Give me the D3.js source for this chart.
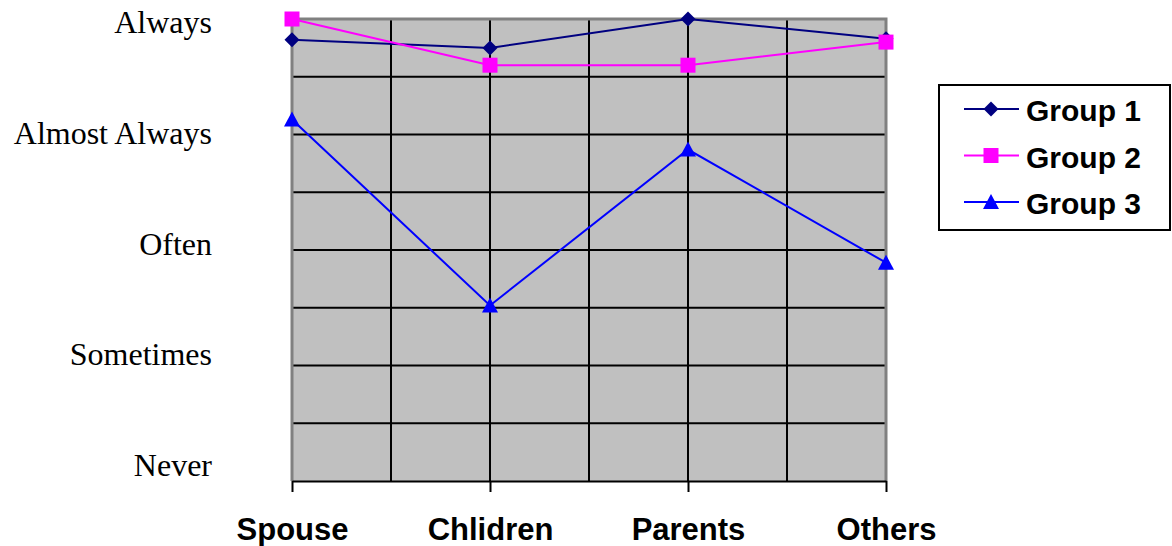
<!DOCTYPE html>
<html>
<head>
<meta charset="utf-8">
<script src="https://cdn.jsdelivr.net/npm/d3@7"></script>
<style>
  html, body { margin: 0; padding: 0; background: #ffffff; }
  svg { display: block; }
</style>
</head>
<body>
<svg id="chart" width="1172" height="546"></svg>
<script>
// Categories along the bottom and the rating scale on the side
const categories = ["Spouse", "Chlidren", "Parents", "Others"];
const levelLabels = ["Never", "Sometimes", "Often", "Almost Always", "Always"];

// Ratings per group (1 = Never ... 5 = Always)
const group1 = [4.82, 4.75, 5.0, 4.83];
const group2 = [5.0, 4.6, 4.6, 4.8];
const group3 = [4.13, 2.52, 3.87, 2.89];
const seriesNames = ["Group 1", "Group 2", "Group 3"];

const plot = { left: 292, right: 886, top: 19, bottom: 481 };

const svg = d3.select("#chart");

const x = d3.scalePoint().domain(categories).range([plot.left, plot.right]);
const xi = d3.scaleLinear().domain([0, categories.length - 1]).range([plot.left, plot.right]);
const y = d3.scaleLinear().domain([1, 5]).range([plot.bottom, plot.top]);

// Plot background
svg.append("rect")
  .attr("x", plot.left).attr("y", plot.top)
  .attr("width", plot.right - plot.left).attr("height", plot.bottom - plot.top)
  .attr("fill", "#c0c0c0");

// Horizontal grid every half step
svg.append("g").selectAll("line")
  .data(d3.range(1.5, 5, 0.5))
  .join("line")
  .attr("x1", plot.left).attr("x2", plot.right)
  .attr("y1", d => y(d)).attr("y2", d => y(d))
  .attr("stroke", "#000").attr("stroke-width", 2);

// Vertical grid at categories and halfway between them
svg.append("g").selectAll("line")
  .data(d3.range(0.5, categories.length - 1, 0.5))
  .join("line")
  .attr("x1", d => xi(d)).attr("x2", d => xi(d))
  .attr("y1", plot.top).attr("y2", plot.bottom)
  .attr("stroke", "#000").attr("stroke-width", 2);

// Plot frame (left, top, right in grey)
svg.append("path")
  .attr("d", `M${plot.left},${plot.bottom}V${plot.top}H${plot.right}V${plot.bottom}`)
  .attr("fill", "none").attr("stroke", "#808080").attr("stroke-width", 3);

// Category axis
const xAxis = svg.append("g")
  .attr("transform", `translate(0,${plot.bottom})`)
  .call(d3.axisBottom(x).tickSize(11).tickPadding(26).tickSizeOuter(0));
xAxis.select(".domain").attr("stroke", "#000").attr("stroke-width", 2);
xAxis.selectAll(".tick line").attr("stroke", "#000").attr("stroke-width", 2);
xAxis.selectAll(".tick text")
  .attr("fill", "#000")
  .style("font-family", "'Liberation Sans', Arial, sans-serif")
  .style("font-weight", "bold")
  .style("font-size", "31px");

// Rating labels on the left
const levelPos = d3.scalePoint().domain(levelLabels).range([476, 33]);
svg.append("g").selectAll("text")
  .data(levelLabels)
  .join("text")
  .attr("x", 212)
  .attr("y", d => levelPos(d))
  .attr("text-anchor", "end")
  .style("font-family", "'Liberation Serif', 'Times New Roman', serif")
  .style("font-size", "32px")
  .attr("fill", "#000")
  .text(d => d);

// Marker shapes centred at (0,0)
const markerPaths = {
  diamond: "M0,-7.5L7.5,0L0,7.5L-7.5,0Z",
  square: "M-7.5,-7.5H7.5V7.5H-7.5Z",
  triangle: "M0,-8L8,7H-8Z"
};

const series = [
  { name: seriesNames[0], values: group1, color: "#000080", marker: "diamond" },
  { name: seriesNames[1], values: group2, color: "#ff00ff", marker: "square" },
  { name: seriesNames[2], values: group3, color: "#0000ff", marker: "triangle" }
];

const line = d3.line()
  .x((d, i) => x(categories[i]))
  .y(d => y(d));

series.forEach(s => {
  const g = svg.append("g");
  g.append("path")
    .attr("d", line(s.values))
    .attr("fill", "none")
    .attr("stroke", s.color)
    .attr("stroke-width", 2);
  g.selectAll("path.marker")
    .data(s.values)
    .join("path")
    .attr("class", "marker")
    .attr("transform", (d, i) => `translate(${x(categories[i])},${y(d)})`)
    .attr("d", markerPaths[s.marker])
    .attr("fill", s.color);
});

// Legend
const legend = svg.append("g");
legend.append("rect")
  .attr("x", 939).attr("y", 85)
  .attr("width", 231).attr("height", 145)
  .attr("fill", "#fff").attr("stroke", "#000").attr("stroke-width", 2);

const legendY = d3.scalePoint().domain(seriesNames).range([109, 202]);
series.forEach(s => {
  const ly = legendY(s.name);
  legend.append("line")
    .attr("x1", 964).attr("x2", 1019)
    .attr("y1", ly).attr("y2", ly)
    .attr("stroke", s.color).attr("stroke-width", 2);
  legend.append("path")
    .attr("transform", `translate(991,${ly})`)
    .attr("d", markerPaths[s.marker])
    .attr("fill", s.color);
  legend.append("text")
    .attr("x", 1026).attr("y", ly + 12)
    .style("font-family", "'Liberation Sans', Arial, sans-serif")
    .style("font-weight", "bold")
    .style("font-size", "30px")
    .attr("fill", "#000")
    .text(s.name);
});
</script>
</body>
</html>
